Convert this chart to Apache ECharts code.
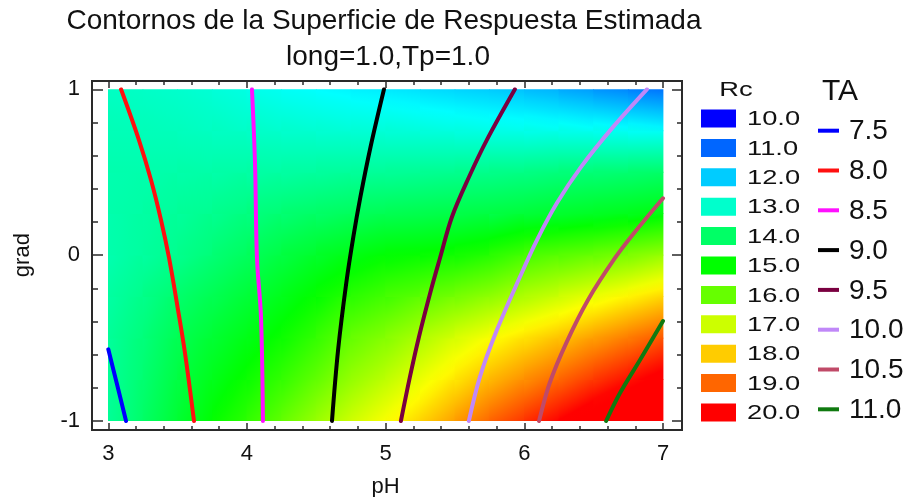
<!DOCTYPE html>
<html>
<head>
<meta charset="utf-8">
<script src="https://cdn.jsdelivr.net/npm/echarts@6/dist/echarts.min.js"></script>
<style>
  html, body { margin: 0; padding: 0; background: #ffffff; }
  #chart { width: 906px; height: 497px; }
</style>
</head>
<body>
<div id="chart"></div>
<script>
// Grid nodes of the estimated response surface
const phNodes = [3, 3.25, 3.5, 3.75, 4, 4.25, 4.5, 4.75, 5, 5.25, 5.5, 5.75, 6, 6.25, 6.5, 6.75, 7];
const gradNodes = [-1, -0.75, -0.5, -0.25, 0, 0.25, 0.5, 0.75, 1];

// Rc estimated at each node, one row per grad value (bottom row first)
const rcGradM100 = [13.5, 14.0, 14.5, 15.0, 15.45, 15.95, 16.5, 17.0, 17.45, 17.9, 18.45, 19.0, 19.5, 20.0, 20.5, 21.0, 21.5];
const rcGradM075 = [13.5, 13.9, 14.35, 14.75, 15.1, 15.5, 15.95, 16.45, 16.85, 17.3, 17.75, 18.2, 18.6, 19.0, 19.45, 19.85, 20.3];
const rcGradM050 = [13.5, 13.8, 14.2, 14.5, 14.8, 15.1, 15.5, 16.0, 16.3, 16.7, 17.1, 17.45, 17.8, 18.1, 18.45, 18.8, 19.15];
const rcGradM025 = [13.4, 13.65, 13.95, 14.2, 14.45, 14.75, 15.05, 15.4, 15.65, 15.9, 16.15, 16.4, 16.7, 17.0, 17.3, 17.6, 17.9];
const rcGradP000 = [13.3, 13.45, 13.6, 13.85, 14.1, 14.35, 14.6, 14.8, 15.0, 15.05, 15.15, 15.35, 15.7, 15.85, 16.0, 16.2, 16.5];
const rcGradP025 = [13.3, 13.4, 13.5, 13.6, 13.75, 13.9, 14.0, 14.1, 14.2, 14.25, 14.3, 14.35, 14.45, 14.55, 14.65, 14.75, 14.85];
const rcGradP050 = [13.3, 13.3, 13.35, 13.35, 13.4, 13.4, 13.45, 13.5, 13.5, 13.55, 13.6, 13.65, 13.7, 13.8, 13.85, 13.9, 14.0];
const rcGradP075 = [13.2, 13.2, 13.15, 13.1, 13.05, 13.0, 12.95, 12.9, 12.9, 12.85, 12.8, 12.75, 12.7, 12.7, 12.65, 12.6, 12.55];
const rcGradP100 = [13.1, 13.05, 13.0, 12.9, 12.75, 12.6, 12.5, 12.4, 12.3, 12.2, 12.1, 12.0, 11.9, 11.7, 11.5, 11.3, 11.1];
const rcRows = [rcGradM100, rcGradM075, rcGradM050, rcGradM025, rcGradP000, rcGradP025, rcGradP050, rcGradP075, rcGradP100];

// Rc legend levels
const rcLevels = [10.0, 11.0, 12.0, 13.0, 14.0, 15.0, 16.0, 17.0, 18.0, 19.0, 20.0];

// TA contour levels and their traced paths [pH, grad]
const taLevels = [7.5, 8.0, 8.5, 9.0, 9.5, 10.0, 10.5, 11.0];
const ta75 = [[3.0, -0.568], [3.061, -0.773], [3.128, -1.0]];
const ta80 = [[3.092, 1.0], [3.221, 0.694], [3.308, 0.453], [3.380, 0.212], [3.438, -0.017], [3.503, -0.331], [3.553, -0.590], [3.618, -1.0]];
const ta85 = [[4.036, 1.0], [4.058, 0.554], [4.072, -0.019], [4.101, -0.371], [4.115, -1.0]];
const ta90 = [[4.988, 1.0], [4.891, 0.652], [4.818, 0.351], [4.767, 0.110], [4.716, -0.168], [4.657, -0.572], [4.613, -1.0]];
const ta95 = [[5.932, 1.0], [5.730, 0.695], [5.601, 0.471], [5.478, 0.230], [5.392, -0.017], [5.327, -0.210], [5.240, -0.493], [5.175, -0.734], [5.110, -1.0]];
const ta100 = [[6.884, 1.0], [6.639, 0.772], [6.408, 0.531], [6.235, 0.314], [6.091, 0.091], [5.968, -0.132], [5.802, -0.452], [5.680, -0.734], [5.600, -1.0]];
const ta105 = [[7.0, 0.343], [6.790, 0.132], [6.654, -0.017], [6.459, -0.270], [6.302, -0.530], [6.183, -0.771], [6.106, -1.0]];
const ta110 = [[7.0, -0.397], [6.834, -0.632], [6.689, -0.833], [6.590, -1.0]];
const taPaths = [ta75, ta80, ta85, ta90, ta95, ta100, ta105, ta110];

// ---- styling ----
const taColors = ['#0000ff', '#ff1010', '#ff10ff', '#000000', '#7a0040', '#c088f8', '#c04a68', '#107a10'];
const FONT = '"Liberation Sans", Arial, sans-serif';
const INK = '#111111';
const FRAME = '#2a2a2a';

// Hue scale: 10 -> blue, 15 -> green, 20 -> red
function rcColor(v) {
  let h = 240 - 24 * (v - 10);
  h = Math.max(0, Math.min(240, h));
  const c = h / 60, i = Math.min(3, Math.floor(c)), f = c - i;
  let r, g, b;
  switch (i) {
    case 0: r = 1; g = f; b = 0; break;
    case 1: r = 1 - f; g = 1; b = 0; break;
    case 2: r = 0; g = 1; b = f; break;
    default: r = 0; g = 1 - f; b = 1; break;
  }
  return 'rgb(' + Math.round(r * 255) + ',' + Math.round(g * 255) + ',' + Math.round(b * 255) + ')';
}

// Cells between adjacent nodes: [ph0, grad0, ph1, grad1, v00, v10, v01, v11]
const cells = [];
for (let j = 0; j < gradNodes.length - 1; j++) {
  for (let i = 0; i < phNodes.length - 1; i++) {
    cells.push([phNodes[i], gradNodes[j], phNodes[i + 1], gradNodes[j + 1],
      rcRows[j][i], rcRows[j][i + 1], rcRows[j + 1][i], rcRows[j + 1][i + 1]]);
  }
}

// Each cell is shaded with a linear gradient along its local slope
function renderCell(params, api) {
  const pA = api.coord([api.value(0), api.value(1)]);
  const pB = api.coord([api.value(2), api.value(3)]);
  const v00 = api.value(4), v10 = api.value(5), v01 = api.value(6), v11 = api.value(7);
  const x0 = pA[0], y0 = pA[1], x1 = pB[0], y1 = pB[1];
  const w = x1 - x0, h = y0 - y1;
  const a = ((v10 - v00) + (v11 - v01)) / 2;
  const b = ((v01 - v00) + (v11 - v10)) / 2;
  const gx = a / w, gy = -b / h;
  const gm = Math.hypot(gx, gy);
  const vc = (v00 + v10 + v01 + v11) / 4;
  const cx = (x0 + x1) / 2, cy = (y0 + y1) / 2;
  let fill;
  if (gm < 1e-9) {
    fill = rcColor(vc);
  } else {
    const ux = gx / gm, uy = gy / gm;
    const t = (Math.abs(ux) * w + Math.abs(uy) * h) / 2;
    const stops = [];
    for (let k = 0; k <= 6; k++) {
      const f = k / 6;
      stops.push({ offset: f, color: rcColor(vc + gm * t * (2 * f - 1)) });
    }
    fill = { type: 'linear', x: cx - ux * t, y: cy - uy * t, x2: cx + ux * t, y2: cy + uy * t, global: true, colorStops: stops };
  }
  return {
    type: 'rect',
    shape: { x: x0 - 0.4, y: y1 - 0.4, width: w + 0.8, height: h + 0.8 },
    style: { fill: fill },
    silent: true
  };
}

// Plot area (data range) and the surrounding frame
const PLOT = { left: 108.3, right: 663, top: 89.3, bottom: 421 };
const BOX = { left: 92, right: 682, top: 81, bottom: 430 };

const tickStyle = { color: FRAME, width: 1.5 };
function phAxis(pos, offset, withLabels) {
  return {
    type: 'value', gridIndex: 0, position: pos, offset: offset,
    min: 3, max: 7, interval: 1,
    axisLine: { show: false, onZero: false },
    axisTick: { show: true, inside: true, length: 7, lineStyle: tickStyle },
    minorTick: { show: true, splitNumber: 5, length: 4, lineStyle: tickStyle },
    axisLabel: withLabels
      ? { show: true, color: INK, fontFamily: FONT, fontSize: 22, margin: 13 }
      : { show: false },
    splitLine: { show: false }, minorSplitLine: { show: false },
    name: withLabels ? 'pH' : '', nameLocation: 'middle', nameGap: 46,
    nameTextStyle: { color: INK, fontFamily: FONT, fontSize: 22 }
  };
}
function gradAxis(pos, offset, withLabels, len, minorLen) {
  return {
    type: 'value', gridIndex: 0, position: pos, offset: offset,
    min: -1, max: 1, interval: 1,
    axisLine: { show: false, onZero: false },
    axisTick: { show: true, inside: true, length: len, lineStyle: tickStyle },
    minorTick: { show: true, splitNumber: 5, length: minorLen, lineStyle: tickStyle },
    axisLabel: withLabels
      ? { show: true, color: INK, fontFamily: FONT, fontSize: 22, margin: 12 }
      : { show: false },
    splitLine: { show: false }, minorSplitLine: { show: false },
    name: withLabels ? 'grad' : '', nameLocation: 'middle', nameGap: 58, nameRotate: 90,
    nameTextStyle: { color: INK, fontFamily: FONT, fontSize: 22 }
  };
}

const graphics = [];
graphics.push({ type: 'text', x: 384, y: 21, style: { text: 'Contornos de la Superficie de Respuesta Estimada', font: '28px ' + FONT, fill: INK, textAlign: 'center', textVerticalAlign: 'middle' } });
graphics.push({ type: 'text', x: 388, y: 57, style: { text: 'long=1.0,Tp=1.0', font: '28px ' + FONT, fill: INK, textAlign: 'center', textVerticalAlign: 'middle' } });

// Rc legend (text drawn slightly widened)
graphics.push({ type: 'text', x: 736, y: 90, scaleX: 1.3, style: { text: 'Rc', font: '21px ' + FONT, fill: INK, textAlign: 'center', textVerticalAlign: 'middle' } });
rcLevels.forEach((lv, k) => {
  const cy = 118.5 + k * 29.4;
  graphics.push({ type: 'rect', shape: { x: 701, y: cy - 9, width: 35, height: 18 }, style: { fill: rcColor(lv) } });
  graphics.push({ type: 'text', x: 747, y: cy + 1, scaleX: 1.3, style: { text: lv.toFixed(1), font: '21px ' + FONT, fill: INK, textAlign: 'left', textVerticalAlign: 'middle' } });
});

// TA legend
graphics.push({ type: 'text', x: 840, y: 92, style: { text: 'TA', font: '30px ' + FONT, fill: INK, textAlign: 'center', textVerticalAlign: 'middle' } });
taLevels.forEach((lv, k) => {
  const cy = 130.7 + k * 39.8;
  graphics.push({ type: 'rect', shape: { x: 818, y: cy - 2, width: 21, height: 4 }, style: { fill: taColors[k] } });
  graphics.push({ type: 'text', x: 849, y: cy + 1, style: { text: lv.toFixed(1), font: '28px ' + FONT, fill: INK, textAlign: 'left', textVerticalAlign: 'middle' } });
});

const series = [{
  type: 'custom',
  xAxisIndex: 0, yAxisIndex: 0,
  renderItem: renderCell,
  dimensions: ['ph0', 'grad0', 'ph1', 'grad1', 'v00', 'v10', 'v01', 'v11'],
  encode: { x: [0, 2], y: [1, 3] },
  data: cells,
  z: 1,
  clip: true
}];
taPaths.forEach((path, k) => {
  series.push({
    type: 'line', name: 'TA ' + taLevels[k], xAxisIndex: 0, yAxisIndex: 0,
    data: path, showSymbol: false, symbol: 'none', smooth: 0.35,
    lineStyle: { color: taColors[k], width: 4, cap: 'round', join: 'round' }, z: 3, silent: true
  });
});

const W = 906, H = 497;
const chart = echarts.init(document.getElementById('chart'), null, { renderer: 'canvas' });
chart.setOption({
  backgroundColor: '#ffffff',
  animation: false,
  grid: [
    { left: PLOT.left, right: W - PLOT.right, top: PLOT.top, bottom: H - PLOT.bottom,
      containLabel: false, outerBoundsMode: 'none' },
    { left: BOX.left, right: W - BOX.right, top: BOX.top, bottom: H - BOX.bottom,
      containLabel: false, outerBoundsMode: 'none',
      show: true, borderColor: FRAME, borderWidth: 2, backgroundColor: 'transparent', z: 5 }
  ],
  xAxis: [
    phAxis('bottom', BOX.bottom - PLOT.bottom, true),
    phAxis('top', PLOT.top - BOX.top, false),
    { type: 'value', gridIndex: 1, show: false, min: 0, max: 1 }
  ],
  yAxis: [
    gradAxis('left', PLOT.left - BOX.left, true, 11, 6),
    gradAxis('right', BOX.right - PLOT.right, false, 10, 5),
    { type: 'value', gridIndex: 1, show: false, min: 0, max: 1 }
  ],
  graphic: graphics,
  series: series
});
</script>
</body>
</html>
